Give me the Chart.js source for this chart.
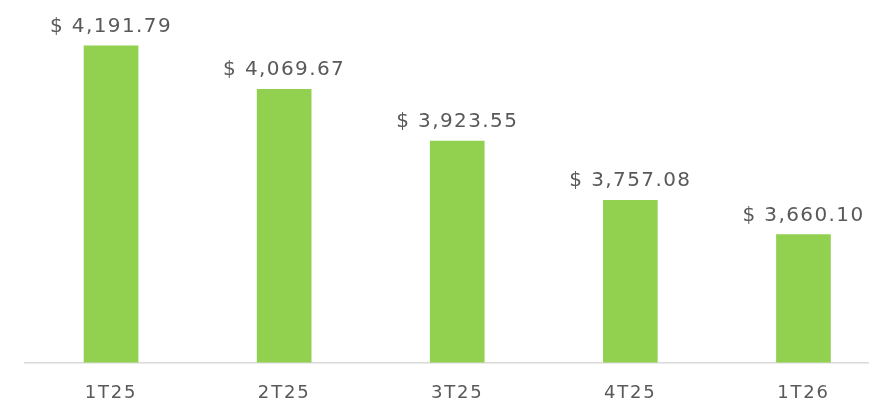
<!DOCTYPE html>
<html>
<head>
<meta charset="utf-8">
<script src="https://cdn.jsdelivr.net/npm/chart.js@4"></script>
<style>
  html, body { margin: 0; padding: 0; background: #fff; overflow: hidden; }
  #wrap { width: 890px; height: 400px; position: relative; }
</style>
</head>
<body>
<div id="wrap"><canvas id="myChart"></canvas></div>
<script>
// chart data
var quarters = ['1T25', '2T25', '3T25', '4T25', '1T26'];
var amounts = [4191.79, 4069.67, 3923.55, 3757.08, 3660.10];
var axisMin = 3300;
var axisMax = 4300;

function money(v) {
    return '$ ' + v.toLocaleString('en-US', { minimumFractionDigits: 2, maximumFractionDigits: 2 });
}

// a bit of letter spacing, the original text is wider than DejaVu
var spacing = {
    id: 'spacing',
    beforeDraw: function(chart) {
        chart.ctx.letterSpacing = '1.8px';
    }
};

// draws "$ x,xxx.xx" above each bar
var valueLabels = {
    id: 'valueLabels',
    afterDatasetsDraw: function(chart) {
        var ctx = chart.ctx;
        var meta = chart.getDatasetMeta(0);
        ctx.save();
        ctx.font = '20px "DejaVu Sans"';
        ctx.letterSpacing = '1.4px';
        ctx.fillStyle = '#595959';
        ctx.textAlign = 'center';
        ctx.textBaseline = 'alphabetic';
        meta.data.forEach(function(bar, i) {
            ctx.fillText(money(amounts[i]), bar.x, bar.y - 14);
        });
        ctx.restore();
    }
};

var ctx = document.getElementById('myChart').getContext('2d');
var myChart = new Chart(ctx, {
    type: 'bar',
    data: {
        labels: quarters,
        datasets: [{
            data: amounts,
            backgroundColor: '#92D050',
            borderWidth: 0,
            barThickness: 54
        }]
    },
    options: {
        responsive: true,
        maintainAspectRatio: false,
        animation: false,
        layout: { padding: { left: 24.5, top: 7.5, right: 0, bottom: 0 } },
        plugins: {
            legend: { display: false },
            tooltip: { enabled: false }
        },
        scales: {
            x: {
                grid: { display: false },
                border: { display: true, color: '#d9d9d9', width: 1.5 },
                ticks: {
                    color: '#595959',
                    font: { family: 'DejaVu Sans', size: 18 },
                    padding: 12
                },
                afterFit: function(scale) { scale.height = 37.5; }
            },
            y: {
                display: false,
                min: axisMin,
                max: axisMax
            }
        }
    },
    plugins: [spacing, valueLabels]
});
</script>
</body>
</html>
